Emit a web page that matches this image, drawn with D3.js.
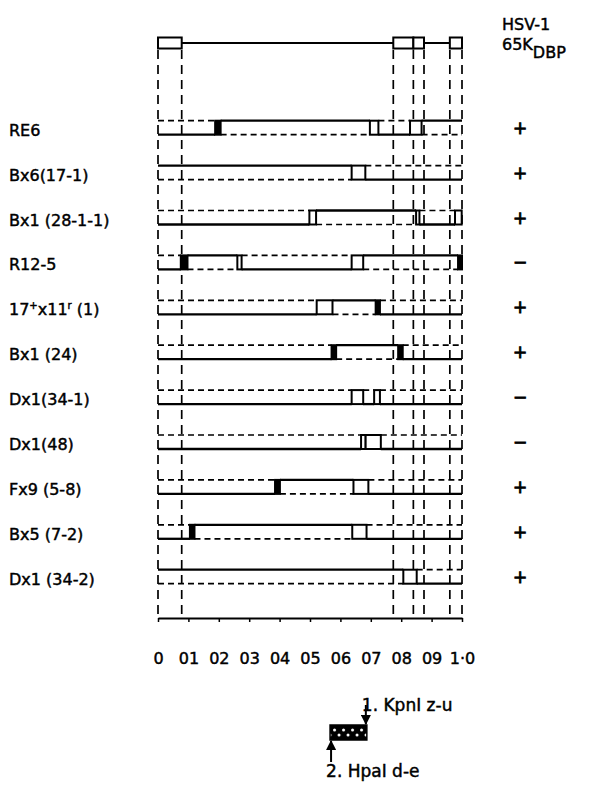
<!DOCTYPE html>
<html>
<head>
<meta charset="utf-8">
<script src="https://cdn.jsdelivr.net/npm/d3@7"></script>
<style>
  body { margin: 0; background: #fff; }
  text { font-family: "DejaVu Sans", sans-serif; fill: #000; stroke: #000; stroke-width: 0.45px; }
</style>
</head>
<body>
<svg id="chart"></svg>
<script>
var width = 595, height = 787;

// recombinants, top to bottom ("^" marks a superscript character)
var strains = ["RE6", "Bx6(17-1)", "Bx1 (28-1-1)", "R12-5", "17^+x11^r (1)", "Bx1 (24)",
  "Dx1(34-1)", "Dx1(48)", "Fx9 (5-8)", "Bx5 (7-2)", "Dx1 (34-2)"];
var dbp = ["+", "+", "+", "\u2212", "+", "+", "\u2212", "\u2212", "+", "+", "+"];

// which line carries the solid parent between crossovers (U = upper, L = lower)
var levels = ["LULU", "UL", "LULU", "LULUL", "LUL", "LUL", "LLL", "LUL", "LUL", "LUL", "UL"];

// crossover intervals in map units: [start, end, kind] (b = open box, f = filled bar)
var crossovers = [
  [[0.188, 0.206, "f"], [0.697, 0.725, "b"], [0.829, 0.867, "b"]],
  [[0.637, 0.682, "b"]],
  [[0.498, 0.520, "b"], [0.849, 0.860, "b"], [0.977, 0.999, "b"]],
  [[0.075, 0.097, "f"], [0.261, 0.275, "b"], [0.637, 0.675, "b"], [0.987, 1.0, "f"]],
  [[0.522, 0.574, "b"], [0.716, 0.730, "f"]],
  [[0.571, 0.586, "f"], [0.790, 0.805, "f"]],
  [[0.637, 0.675, "b"], [0.711, 0.730, "b"]],
  [[0.668, 0.683, "b"], [0.683, 0.733, "b"]],
  [[0.385, 0.401, "f"], [0.643, 0.692, "b"]],
  [[0.105, 0.120, "f"], [0.639, 0.686, "b"]],
  [[0.807, 0.851, "b"]]
];

// genome map: repeat boxes and region boundaries
var repeats = [[0, 0.078], [0.774, 0.84], [0.84, 0.875], [0.96, 1.0]];
var boundaries = [0, 0.078, 0.774, 0.84, 0.875, 0.96, 1.0];

var tickValues = [0, 0.1, 0.2, 0.3, 0.4, 0.5, 0.6, 0.7, 0.8, 0.9, 1.0];
var tickLabels = ["0", "01", "02", "03", "04", "05", "06", "07", "08", "09", "1\u00b70"];

var x = d3.scaleLinear().domain([0, 1]).range([158, 462]);
var y = d3.scalePoint().domain(strains).range([120.7, 569.7]);
var gap = 14;
var mapY = 43, axisY = 618;

var svg = d3.select("#chart")
  .attr("width", width)
  .attr("height", height);

// dashed vertical guides
svg.append("g")
  .selectAll("line")
  .data(boundaries)
  .enter().append("line")
    .attr("x1", function (d) { return x(d); })
    .attr("x2", function (d) { return x(d); })
    .attr("y1", mapY + 7)
    .attr("y2", axisY)
    .attr("stroke", "#000")
    .attr("stroke-width", 1.7)
    .attr("stroke-dasharray", "9,6");

// genome map
svg.append("line")
  .attr("x1", x(repeats[0][1])).attr("x2", x(repeats[3][0]))
  .attr("y1", mapY).attr("y2", mapY)
  .attr("stroke", "#000").attr("stroke-width", 2);

svg.append("g")
  .selectAll("rect")
  .data(repeats)
  .enter().append("rect")
    .attr("x", function (d) { return x(d[0]); })
    .attr("width", function (d) { return x(d[1]) - x(d[0]); })
    .attr("y", mapY - 5.5)
    .attr("height", 11)
    .attr("fill", "#fff")
    .attr("stroke", "#000")
    .attr("stroke-width", 2);

// recombinant rows
strains.forEach(function (name, i) {
  var g = svg.append("g");
  var top = y(name), bot = top + gap;
  var xo = crossovers[i];
  for (var k = 0; k <= xo.length; k++) {
    var a = k === 0 ? 0 : xo[k - 1][1];
    var b = k === xo.length ? 1 : xo[k][0];
    var solidY = levels[i][k] === "U" ? top : bot;
    var dashY = levels[i][k] === "U" ? bot : top;
    g.append("line")
      .attr("x1", x(a)).attr("x2", x(b))
      .attr("y1", solidY).attr("y2", solidY)
      .attr("stroke", "#000").attr("stroke-width", 2.3);
    g.append("line")
      .attr("x1", x(a)).attr("x2", x(b))
      .attr("y1", dashY).attr("y2", dashY)
      .attr("stroke", "#000").attr("stroke-width", 1.7)
      .attr("stroke-dasharray", "6,4");
  }
  g.selectAll("rect")
    .data(xo)
    .enter().append("rect")
      .attr("x", function (d) { return x(d[0]); })
      .attr("width", function (d) { return x(d[1]) - x(d[0]); })
      .attr("y", top)
      .attr("height", gap)
      .attr("fill", function (d) { return d[2] === "f" ? "#000" : "#fff"; })
      .attr("stroke", "#000")
      .attr("stroke-width", 2);

  // name, with superscripts
  var label = svg.append("text")
    .attr("x", 9)
    .attr("y", bot + 1)
    .style("font-size", "16px");
  var raised = false;
  name.split(/(\^.)/).forEach(function (part) {
    if (!part) return;
    if (part[0] === "^") {
      label.append("tspan").attr("dy", -6).style("font-size", "10px").text(part[1]);
      raised = true;
    } else {
      label.append("tspan").attr("dy", raised ? 6 : 0).text(part);
      raised = false;
    }
  });

  svg.append("text")
    .attr("x", 520)
    .attr("y", top + 13)
    .attr("text-anchor", "middle")
    .style("font-size", "17px")
    .style("stroke-width", "0.9px")
    .text(dbp[i]);
});

// bottom scale
var axis = d3.axisBottom(x)
  .tickValues(tickValues)
  .tickSize(4)
  .tickSizeOuter(0)
  .tickPadding(31)
  .tickFormat(function (d, i) { return tickLabels[i]; });

var axisG = svg.append("g")
  .attr("transform", "translate(0," + axisY + ")")
  .call(axis);
axisG.select(".domain").attr("stroke-width", 2);
axisG.selectAll(".tick line").attr("stroke-width", 1.5);
axisG.selectAll(".tick text")
  .style("font-family", "DejaVu Sans, sans-serif")
  .style("font-size", "16px")
  .attr("fill", "#000")
  .attr("stroke", "#000")
  .attr("stroke-width", 0.45);

// column header
svg.append("text").attr("x", 502).attr("y", 30).style("font-size", "16px").text("HSV-1");
var hdr = svg.append("text").attr("x", 502).attr("y", 50).style("font-size", "16px");
hdr.append("tspan").text("65K");
hdr.append("tspan").attr("dy", 8).text("DBP");

// fragment legend
var fragment = [0.566, 0.687];
var boxTop = 725, boxH = 15;

var defs = svg.append("defs");
var pat = defs.append("pattern")
  .attr("id", "dots")
  .attr("patternUnits", "userSpaceOnUse")
  .attr("x", x(fragment[0])).attr("y", boxTop)
  .attr("width", 9).attr("height", boxH);
pat.append("rect").attr("width", 9).attr("height", boxH).attr("fill", "#000");
pat.append("circle").attr("cx", 4.5).attr("cy", 5).attr("r", 1.5).attr("fill", "#fff");
pat.append("circle").attr("cx", 0).attr("cy", 10).attr("r", 1.5).attr("fill", "#fff");
pat.append("circle").attr("cx", 9).attr("cy", 10).attr("r", 1.5).attr("fill", "#fff");

svg.append("rect")
  .attr("x", x(fragment[0]))
  .attr("width", x(fragment[1]) - x(fragment[0]))
  .attr("y", boxTop)
  .attr("height", boxH)
  .attr("fill", "url(#dots)")
  .attr("stroke", "#000")
  .attr("stroke-width", 1.5);

defs.append("marker")
  .attr("id", "head")
  .attr("viewBox", "0 0 10 10")
  .attr("refX", 9).attr("refY", 5)
  .attr("markerWidth", 5).attr("markerHeight", 5)
  .attr("orient", "auto")
  .append("path").attr("d", "M0,0L10,5L0,10z").attr("fill", "#000");

svg.append("line")
  .attr("x1", x(fragment[1]) - 1).attr("x2", x(fragment[1]) - 1)
  .attr("y1", 705).attr("y2", boxTop - 1)
  .attr("stroke", "#000").attr("stroke-width", 2)
  .attr("marker-end", "url(#head)");
svg.append("line")
  .attr("x1", x(fragment[0]) + 1).attr("x2", x(fragment[0]) + 1)
  .attr("y1", 762).attr("y2", boxTop + boxH + 1)
  .attr("stroke", "#000").attr("stroke-width", 2)
  .attr("marker-end", "url(#head)");

svg.append("text").attr("x", x(fragment[1]) - 5).attr("y", 711)
  .style("font-size", "17px").text("1. KpnI z-u");
svg.append("text").attr("x", x(fragment[0]) - 4).attr("y", 777)
  .style("font-size", "17px").text("2. HpaI d-e");
</script>
</body>
</html>
